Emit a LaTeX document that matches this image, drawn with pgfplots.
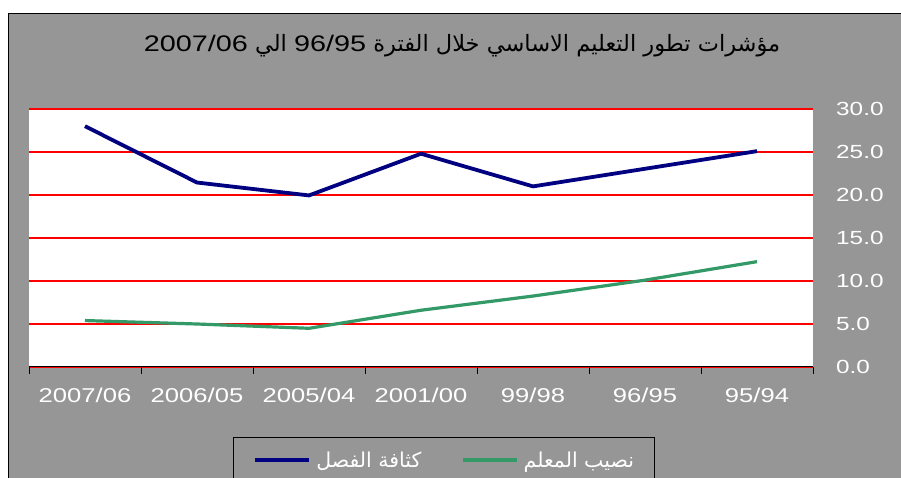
\documentclass[border=0pt]{standalone}
\usepackage{pgfplots}
\pgfplotsset{compat=1.18}
\usepackage{fontspec}
\setmainfont[FakeStretch=1.28]{Liberation Sans}
\newfontfamily\arabicfont[Script=Arabic]{DejaVu Sans}
\TeXXeTstate=1
\definecolor{bg}{RGB}{150,150,150}
\definecolor{navyc}{RGB}{0,0,128}
\definecolor{greenc}{RGB}{51,153,102}
\begin{document}
\begin{tikzpicture}[x=1pt,y=1pt]
\useasboundingbox (0,0) rectangle (901,478);
\fill[white] (0,0) rectangle (901,478);
\fill[bg] (8.5,0) rectangle (901,464.5);
\draw[black,line width=1.2pt] (8.5,0) -- (8.5,464.5) -- (902,464.5);
\node[anchor=base,inner sep=0pt] at (462,426) {\fontsize{22.5}{26}\selectfont\arabicfont\beginR مؤشرات تطور التعليم الاساسي خلال الفترة \beginL{\rmfamily 96/95}\endL{} الي \beginL{\rmfamily 2007/06}\endL\endR};
\begin{axis}[
  at={(29pt,111pt)}, anchor=south west,
  scale only axis, width=784pt, height=258pt,
  axis background/.style={fill=white},
  xmin=-0.5, xmax=6.5, ymin=0, ymax=30,
  axis x line*=bottom, axis y line*=right,
  y axis line style={draw=none},
  x axis line style={black, line width=1pt, -},
  xtick={0,...,6},
  xticklabels={2007/06,2006/05,2005/04,2001/00,99/98,96/95,95/94},
  minor xtick={-0.5,0.5,...,6.5},
  ytick={0,5,10,15,20,25,30},
  ymajorgrids, major grid style={draw=red, line width=1.6pt},
  major tick length=0pt, minor tick length=7pt, tick align=outside,
  tick style={black, line width=1pt},
  /pgf/number format/.cd, fixed, fixed zerofill, precision=1, assume math mode=true,
  /pgfplots/.cd,
  yticklabel style={anchor=west, inner sep=0pt, xshift=23pt, text=white, font=\fontsize{19}{22}\selectfont},
  xticklabel style={anchor=north, inner sep=0pt, yshift=-21pt, text=white, font=\fontsize{20}{23}\selectfont},
  legend columns=2,
  legend image code/.code={\draw[#1] (0pt,0pt) -- (54pt,0pt);},
  legend style={at={(0.2602,-0.2713)}, anchor=north west, draw=black, line width=1pt, fill=bg,
    inner xsep=20pt, inner ysep=14pt,
    nodes={inner sep=0pt, text=white, font=\fontsize{20.5}{24}\selectfont\arabicfont},
    /tikz/every odd column/.style={column sep=5pt},
    /tikz/every even column/.style={column sep=40pt}},
]
\addplot[navyc, line width=3.8pt, line join=round] coordinates {(0,28.0)(1,21.45)(2,19.95)(3,24.8)(4,21.0)(5,23.05)(6,25.1)};
\addlegendentry{\beginR كثافة الفصل\endR}
\addplot[greenc, line width=3.2pt, line join=round] coordinates {(0,5.4)(1,5.0)(2,4.5)(3,6.6)(4,8.25)(5,10.1)(6,12.25)};
\addlegendentry{\beginR نصيب المعلم\endR}
\draw[black, line width=1pt] (axis cs:-0.5,0) -- (axis cs:6.5,0);
\end{axis}
\end{tikzpicture}
\end{document}
